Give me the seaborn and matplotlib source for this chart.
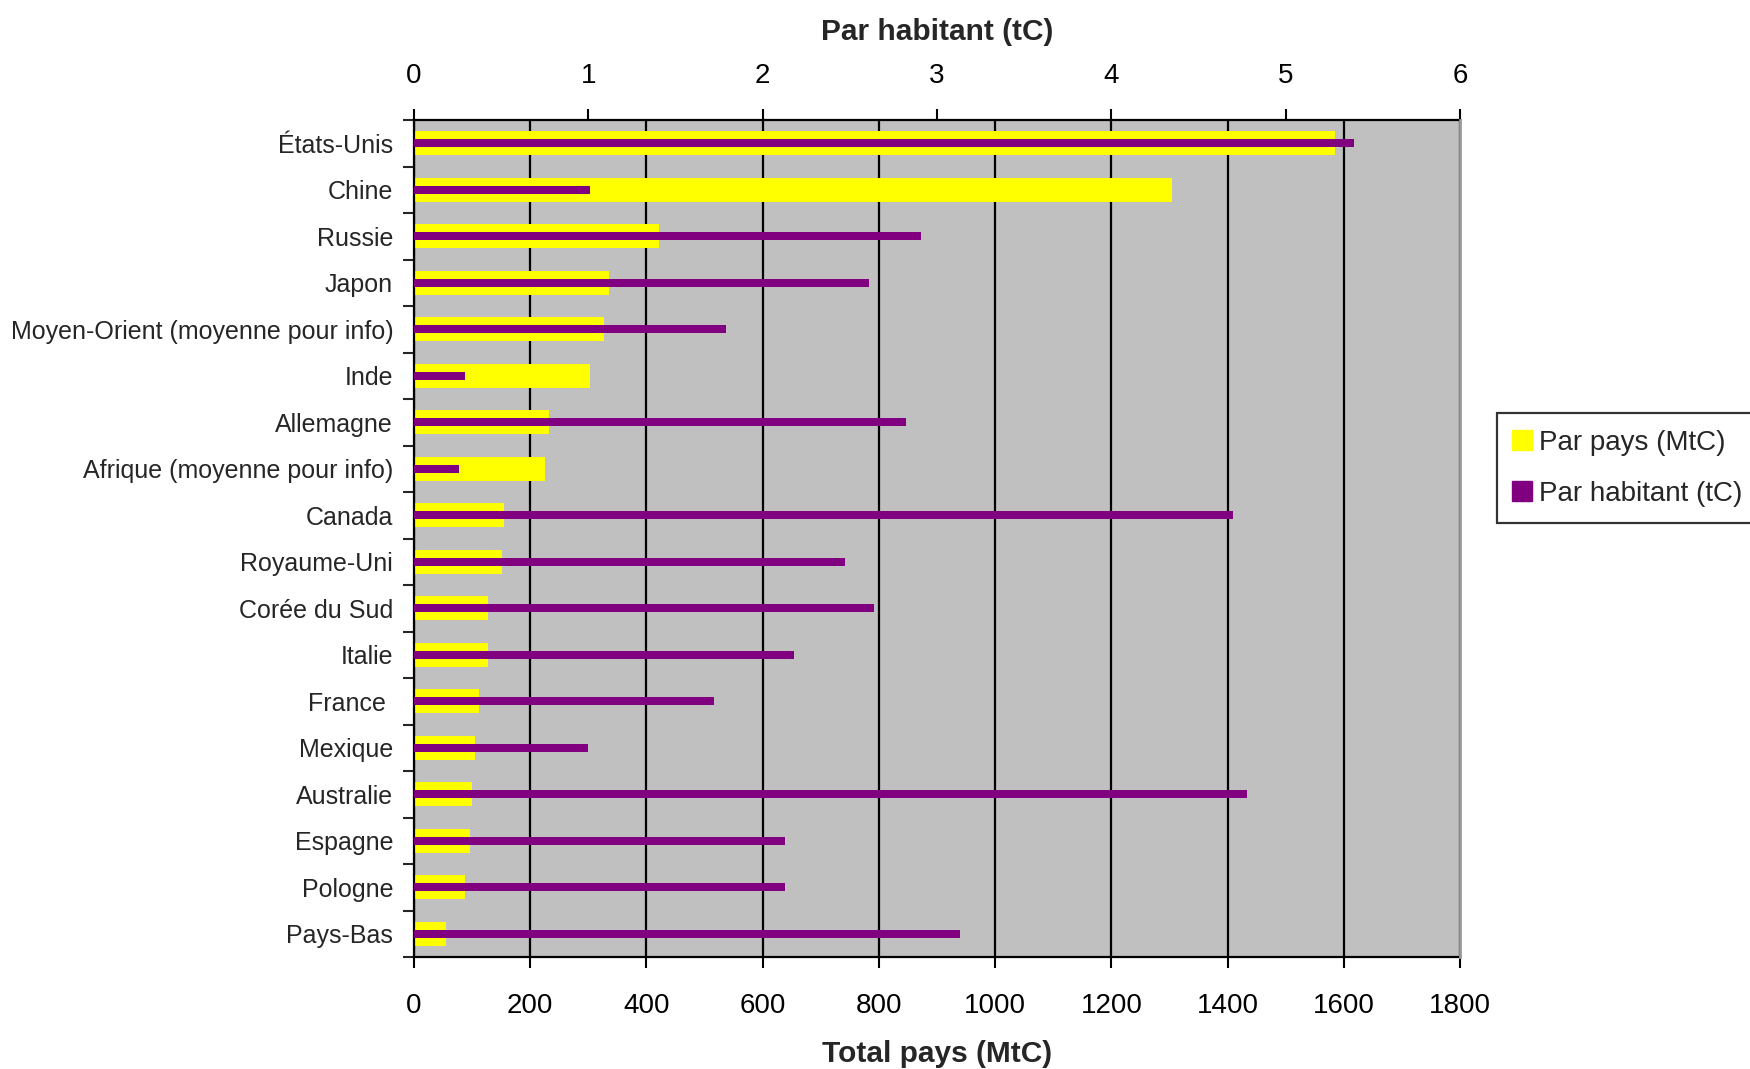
import numpy as np
import pandas as pd
import matplotlib
matplotlib.use("Agg")
import matplotlib.pyplot as plt
from matplotlib.lines import Line2D
import seaborn as sns

# Émissions de carbone : total par pays (MtC) et par habitant (tC)
pays = [
    "États-Unis", "Chine", "Russie", "Japon",
    "Moyen-Orient (moyenne pour info)", "Inde", "Allemagne",
    "Afrique (moyenne pour info)", "Canada", "Royaume-Uni",
    "Corée du Sud", "Italie", "France ", "Mexique", "Australie",
    "Espagne", "Pologne", "Pays-Bas",
]
total_pays = [1585, 1305, 422, 335, 327, 303, 233, 225, 155, 152,
              128, 128, 111, 105, 100, 97, 87, 55]
par_habitant = [5.39, 1.01, 2.91, 2.61, 1.79, 0.29, 2.82, 0.26, 4.70, 2.47,
                2.64, 2.18, 1.72, 1.00, 4.78, 2.13, 2.13, 3.13]

ticks_total = [0, 200, 400, 600, 800, 1000, 1200, 1400, 1600, 1800]
ticks_hab = [0, 1, 2, 3, 4, 5, 6]

df = pd.DataFrame({"pays": pays, "total": total_pays, "hab": par_habitant})

sns.set_style("white")
plt.rcParams["font.family"] = ["Liberation Sans", "DejaVu Sans"]

JAUNE = "#FFFF00"
VIOLET = "#800080"
FOND = "#C0C0C0"

fig = plt.figure(figsize=(17.5, 10.69), dpi=100)
ax = fig.add_axes([414 / 1750, 1 - 957 / 1069, (1460 - 414) / 1750, (957 - 120) / 1069])
ax.set_facecolor(FOND)

sns.barplot(data=df, x="total", y="pays", orient="h", ax=ax,
            color=JAUNE, saturation=1, width=0.52, linewidth=0)

ax2 = ax.twiny()
sns.barplot(data=df, x="hab", y="pays", orient="h", ax=ax2,
            color=VIOLET, saturation=1, width=0.17, linewidth=0)

n = len(pays)
ax.set_ylim(n - 0.5, -0.5)

# Bottom axis: total per country
ax.set_xlim(ticks_total[0], ticks_total[-1])
ax.set_xticks(ticks_total)
ax.set_xticklabels([str(t) for t in ticks_total], fontsize=20)
ax.set_xlabel("Total pays (MtC)", fontsize=21.5, fontweight="bold", labelpad=15)
ax.tick_params(axis="x", which="major", direction="out", length=8, width=1.5,
               pad=18, bottom=True, colors="black")

# Top axis: per inhabitant
ax2.set_xlim(ticks_hab[0], ticks_hab[-1])
ax2.set_xticks(ticks_hab)
ax2.set_xticklabels([str(t) for t in ticks_hab], fontsize=20)
ax2.set_xlabel("Par habitant (tC)", fontsize=21.5, fontweight="bold", labelpad=17)
ax2.xaxis.set_label_position("top")
ax2.tick_params(axis="x", which="major", direction="out", length=8, width=1.5,
                pad=14, top=True, colors="black")
ax2.set_ylabel("")

# Category axis: labels centred, tick marks between categories
ax.set_yticks(range(n))
ax.set_yticklabels(pays, fontsize=18)
ax.set_yticks(np.arange(-0.5, n, 1), minor=True)
ax.tick_params(axis="y", which="major", length=0, pad=15, left=True)
ax.tick_params(axis="y", which="minor", direction="out", length=8, width=1.5, left=True)
ax.set_ylabel("")

# Vertical black gridlines behind the bars
ax.set_axisbelow(True)
ax.xaxis.grid(True, color="black", linewidth=1.6)
ax.yaxis.grid(False)
ax2.grid(False)

for s in ["top", "right"]:
    ax.spines[s].set_visible(False)
for s in ["left", "bottom"]:
    ax.spines[s].set_color("black")
    ax.spines[s].set_linewidth(1.6)
for s in ["left", "bottom"]:
    ax2.spines[s].set_visible(False)
ax2.spines["top"].set_color("black")
ax2.spines["top"].set_linewidth(1.6)
ax2.spines["right"].set_color("#9A9A9A")
ax2.spines["right"].set_linewidth(2.0)
ax2.spines["right"].set_zorder(5)

handles = [
    Line2D([0], [0], marker="s", linestyle="none", markersize=14,
           markerfacecolor=JAUNE, markeredgecolor=JAUNE, label="Par pays (MtC)"),
    Line2D([0], [0], marker="s", linestyle="none", markersize=14,
           markerfacecolor=VIOLET, markeredgecolor=VIOLET, label="Par habitant (tC)"),
]
leg = fig.legend(handles=handles, loc="upper left",
                 bbox_to_anchor=(1497 / 1750, 1 - 413 / 1069),
                 fontsize=20, frameon=True, fancybox=False, shadow=False,
                 handlelength=0.6, handletextpad=0.3, borderpad=0.6,
                 labelspacing=0.9, borderaxespad=0)
leg.get_frame().set_edgecolor("black")
leg.get_frame().set_linewidth(1.6)
leg.get_frame().set_facecolor("white")

fig.savefig("out.png", dpi=100, facecolor="white")
